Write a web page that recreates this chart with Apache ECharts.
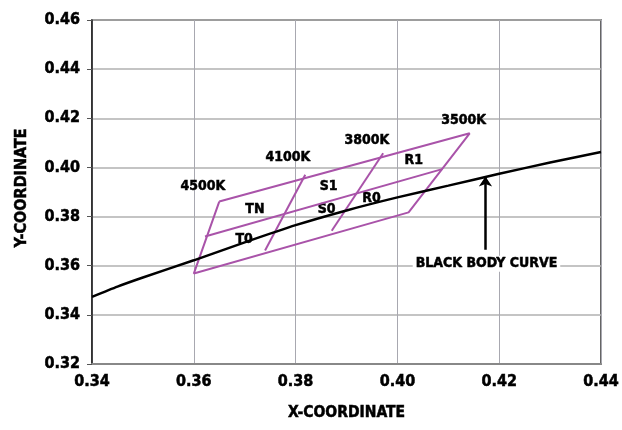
<!DOCTYPE html>
<html>
<head>
<meta charset="utf-8">
<script src="https://cdn.jsdelivr.net/npm/echarts@6/dist/echarts.min.js"></script>
<style>
html,body{margin:0;padding:0;background:#fff;}
#chart{width:622px;height:430px;}
</style>
</head>
<body>
<div id="chart"></div>
<script>
// Black body curve (x, y)
var curveX = [0.340, 0.345, 0.350, 0.360, 0.370, 0.380, 0.390, 0.400, 0.410, 0.420, 0.430, 0.440];
var curveY = [0.3473, 0.3515, 0.3552, 0.3622, 0.3695, 0.3765, 0.3825, 0.3878, 0.3926, 0.3974, 0.4020, 0.4063];

// Quadrangle vertices
var outerX = [0.3650, 0.4142, 0.4022, 0.3600, 0.3650];
var outerY = [0.3861, 0.4139, 0.3817, 0.3568, 0.3861];
var midX = [0.3622, 0.4088];
var midY = [0.3719, 0.3993];
var div4100X = [0.3819, 0.3740];
var div4100Y = [0.3970, 0.3662];
var div3800X = [0.3972, 0.3871];
var div3800Y = [0.4058, 0.3742];

// Region / temperature labels
var labelText = ['4500K', '4100K', '3800K', '3500K', 'TN', 'T0', 'S1', 'S0', 'R0', 'R1'];
var labelX = [0.3618, 0.3785, 0.3940, 0.4130, 0.3720, 0.3699, 0.3865, 0.3861, 0.3949, 0.4032];
var labelY = [0.3921, 0.4039, 0.4109, 0.4193, 0.3830, 0.3706, 0.3922, 0.3830, 0.3875, 0.4028];

// Annotation
var noteText = 'BLACK BODY CURVE';
var noteX = 0.4175;
var noteY = 0.3608;
var arrowX = [0.4173, 0.4173];
var arrowY = [0.3665, 0.3963];

// Axis ticks
var xTicks = [0.34, 0.36, 0.38, 0.40, 0.42, 0.44];
var yTicks = [0.32, 0.34, 0.36, 0.38, 0.40, 0.42, 0.44, 0.46];

function zip(a, b) { return a.map(function (v, i) { return [v, b[i]]; }); }

var FONT = '"DejaVu Sans Condensed", "DejaVu Sans", sans-serif';
var PURPLE = '#a953a9';
var HEAVY = { textBorderColor: '#000', textBorderWidth: 0.5 };

function txt(size, extra) {
  return Object.assign({ fontFamily: FONT, fontWeight: 'bold', fontSize: size, color: '#000' }, HEAVY, extra || {});
}

function purpleLine(xs, ys) {
  return {
    type: 'line', data: zip(xs, ys), symbol: 'none', silent: true, z: 3,
    lineStyle: { color: PURPLE, width: 2 }
  };
}

var chart = echarts.init(document.getElementById('chart'), null, { renderer: 'canvas' });
chart.setOption({
  animation: false,
  backgroundColor: '#fff',
  grid: { left: 92, right: 21, top: 20, bottom: 66, outerBoundsMode: 'none', containLabel: false,
    show: true, borderColor: '#333', borderWidth: 1.5 },
  xAxis: {
    type: 'value', min: xTicks[0], max: xTicks[xTicks.length - 1], interval: 0.02,
    name: 'X-COORDINATE', nameLocation: 'middle', nameGap: 41,
    nameTextStyle: txt(15.5),
    axisLine: { show: true, lineStyle: { color: '#888', width: 2 } },
    axisTick: { show: false },
    axisLabel: Object.assign(txt(16, { margin: 10 }), {
      formatter: function (v) { return v.toFixed(2); } }),
    splitLine: { show: true, lineStyle: { color: '#a8a8b0', width: 1 } }
  },
  yAxis: {
    type: 'value', min: yTicks[0], max: yTicks[yTicks.length - 1], interval: 0.02,
    name: 'Y-COORDINATE', nameLocation: 'middle', nameGap: 62,
    nameTextStyle: txt(16, { padding: [0, 0, 0, 8] }),
    axisLine: { show: true, lineStyle: { color: '#222', width: 1.5 } },
    axisTick: { show: true, length: 5, lineStyle: { color: '#555' } },
    axisLabel: Object.assign(txt(16, { margin: 12 }), {
      formatter: function (v) { return v.toFixed(2); } }),
    splitLine: { show: true, lineStyle: { color: '#b0b0b0', width: 1.5 } }
  },
  series: [
    purpleLine(outerX, outerY),
    purpleLine(midX, midY),
    purpleLine(div4100X, div4100Y),
    purpleLine(div3800X, div3800Y),
    {
      type: 'line', data: zip(curveX, curveY), symbol: 'none', silent: true, z: 4,
      smooth: 0.2,
      lineStyle: { color: '#000', width: 2.5 }
    },
    {
      type: 'lines', coordinateSystem: 'cartesian2d', silent: true, z: 5,
      symbol: ['none', 'arrow'], symbolSize: [0, 10],
      lineStyle: { color: '#000', width: 2.5, opacity: 1 },
      data: [{ coords: zip(arrowX, arrowY) }]
    },
    {
      type: 'scatter', symbolSize: 0, silent: true, z: 2,
      itemStyle: { opacity: 1 },
      data: labelText.map(function (t, i) { return { value: [labelX[i], labelY[i]], name: t }; }),
      label: txt(14, { show: true, position: 'inside', formatter: '{b}' })
    },
    {
      type: 'scatter', symbolSize: 0, silent: true, z: 6,
      itemStyle: { opacity: 1 },
      data: [{ value: [noteX, noteY], name: noteText }],
      label: txt(14, { show: true, position: 'inside', formatter: '{b}',
        backgroundColor: '#fff', padding: [1, 3] })
    }
  ]
});
</script>
</body>
</html>
